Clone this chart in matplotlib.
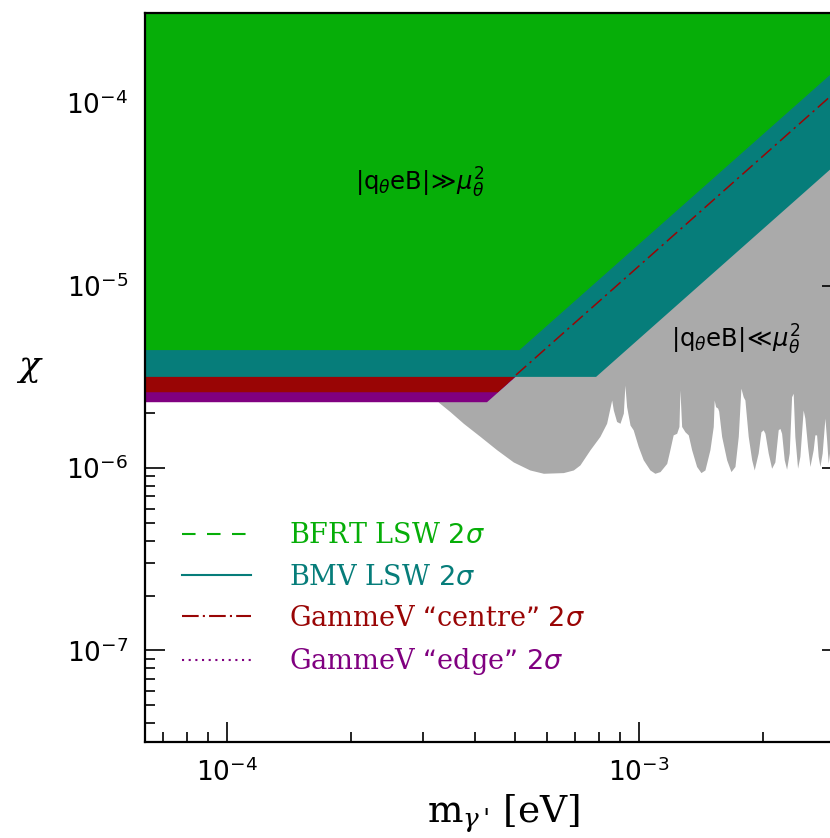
import matplotlib
matplotlib.use("Agg")
import matplotlib.pyplot as plt
from matplotlib.lines import Line2D
from matplotlib.ticker import LogLocator, NullFormatter

# ---------------- data ----------------
# BFRT LSW 2 sigma (green)
bfrt_m = [5.0e-5, 5.12e-4, 3.3e-3]
bfrt_chi = [4.46e-6, 4.46e-6, 1.85e-4]
# BMV LSW 2 sigma (teal)
bmv_m = [5.0e-5, 7.86e-4, 3.3e-3]
bmv_chi = [3.18e-6, 3.18e-6, 5.6e-5]
# GammeV "centre" 2 sigma (red)
gc_m = [5.0e-5, 4.53e-4, 3.3e-3]
gc_chi = [2.62e-6, 2.62e-6, 1.39e-4]
# GammeV "edge" 2 sigma (purple)
ge_m = [5.0e-5, 4.27e-4, 3.3e-3]
ge_chi = [2.31e-6, 2.31e-6, 1.38e-4]

# lower boundary of the grey |q eB| << mu^2 region
grey_m = [3.26e-4, 3.48e-4, 3.75e-4, 4.12e-4, 4.52e-4, 4.96e-4, 5.44e-4, 5.87e-4,
          6.56e-4, 6.94e-4, 7.20e-4, 7.62e-4, 8.05e-4, 8.36e-4, 8.60e-4, 8.68e-4,
          8.84e-4, 9.01e-4, 9.18e-4, 9.26e-4, 9.35e-4, 9.53e-4, 9.70e-4, 9.98e-4,
          1.026e-3, 1.065e-3, 1.095e-3, 1.127e-3, 1.170e-3, 1.191e-3, 1.213e-3,
          1.237e-3, 1.253e-3, 1.260e-3, 1.272e-3, 1.296e-3, 1.320e-3, 1.345e-3,
          1.383e-3, 1.417e-3, 1.449e-3, 1.490e-3, 1.518e-3, 1.526e-3, 1.538e-3,
          1.556e-3, 1.565e-3, 1.591e-3, 1.636e-3, 1.676e-3, 1.714e-3, 1.746e-3,
          1.772e-3, 1.795e-3, 1.812e-3, 1.846e-3, 1.882e-3, 1.909e-3, 1.952e-3,
          1.982e-3, 2.007e-3, 2.027e-3, 2.064e-3, 2.104e-3, 2.143e-3, 2.183e-3,
          2.204e-3, 2.225e-3, 2.258e-3, 2.288e-3, 2.322e-3, 2.353e-3, 2.374e-3,
          2.396e-3, 2.433e-3, 2.465e-3, 2.510e-3, 2.534e-3, 2.573e-3, 2.607e-3,
          2.655e-3, 2.680e-3, 2.706e-3, 2.730e-3, 2.757e-3, 2.792e-3, 2.835e-3,
          2.862e-3, 2.888e-3, 2.915e-3, 3.0e-3, 3.2e-3]
grey_chi = [2.30e-6, 2.04e-6, 1.76e-6, 1.49e-6, 1.26e-6, 1.08e-6, 0.976e-6, 0.936e-6,
            0.944e-6, 0.976e-6, 1.04e-6, 1.26e-6, 1.49e-6, 1.76e-6, 2.36e-6, 2.08e-6,
            1.80e-6, 1.76e-6, 2.00e-6, 2.85e-6, 2.17e-6, 1.72e-6, 1.62e-6, 1.31e-6,
            1.11e-6, 0.976e-6, 0.936e-6, 0.956e-6, 1.06e-6, 1.26e-6, 1.52e-6,
            1.55e-6, 1.69e-6, 2.68e-6, 1.69e-6, 1.58e-6, 1.52e-6, 1.26e-6,
            1.02e-6, 0.944e-6, 0.976e-6, 1.26e-6, 1.69e-6, 2.36e-6, 2.17e-6,
            2.13e-6, 2.05e-6, 1.49e-6, 1.11e-6, 0.956e-6, 1.02e-6, 1.49e-6,
            2.74e-6, 2.46e-6, 2.36e-6, 1.49e-6, 1.11e-6, 0.976e-6, 1.21e-6,
            1.58e-6, 1.62e-6, 1.55e-6, 1.21e-6, 0.997e-6, 1.08e-6, 1.62e-6,
            1.65e-6, 1.55e-6, 1.11e-6, 0.985e-6, 1.21e-6, 2.46e-6, 2.57e-6,
            1.49e-6, 0.997e-6, 1.16e-6, 2.08e-6, 1.88e-6, 1.31e-6, 1.02e-6,
            1.26e-6, 1.52e-6, 1.52e-6, 1.16e-6, 1.02e-6, 1.21e-6, 1.88e-6,
            1.43e-6, 1.06e-6, 1.26e-6, 1.6e-6, 1.2e-6]

labels = ["BFRT LSW $2\\sigma$", "BMV LSW $2\\sigma$",
          "GammeV \u201ccentre\u201d $2\\sigma$", "GammeV \u201cedge\u201d $2\\sigma$"]

# ---------------- style ----------------
c_green = "#06ae08"
c_teal = "#067d7a"
c_red = "#990505"
c_purple = "#800080"
c_grey = "#aaaaaa"
TOP = 1e-2

fig = plt.figure(figsize=(8.30, 8.38), dpi=100)
ax = fig.add_axes([0.1747, 0.1146, 0.8398, 0.8695])
ax.set_xscale("log")
ax.set_yscale("log")
ax.set_xlim(6.32e-5, 3.12e-3)
ax.set_ylim(3.15e-8, 3.11e-4)

ax.fill_between(grey_m, grey_chi, TOP, color=c_grey, lw=0, zorder=1)
ax.fill_between(ge_m, ge_chi, TOP, color=c_purple, lw=0, zorder=2)
ax.fill_between(gc_m, gc_chi, TOP, color=c_red, lw=0, zorder=3)
ax.fill_between(bmv_m, bmv_chi, TOP, color=c_teal, lw=0, zorder=4)
ax.plot(gc_m[1:], gc_chi[1:], color=c_red, lw=1.1, dashes=(9, 3, 1.5, 3), zorder=5)
ax.fill_between(bfrt_m, bfrt_chi, TOP, color=c_green, lw=0, zorder=6)

# annotations
ax.text(2.94e-4, 3.66e-5, r"$|\mathrm{q}_{\theta}\mathrm{eB}|\!\gg\!\mu_{\theta}^{2}$",
        fontsize=17.5, ha="center", va="center", zorder=10)
ax.text(1.72e-3, 5.04e-6, r"$|\mathrm{q}_{\theta}\mathrm{eB}|\!\ll\!\mu_{\theta}^{2}$",
        fontsize=17.5, ha="center", va="center", zorder=10)

# legend
handles = [Line2D([], [], color=c_green, lw=1.5, dashes=(6.5, 5.5)),
           Line2D([], [], color=c_teal, lw=1.5),
           Line2D([], [], color=c_red, lw=1.5, dashes=(8, 2, 1, 2)),
           Line2D([], [], color=c_purple, lw=1.5, dashes=(1, 2.2))]
leg = ax.legend(handles, labels, loc="upper left", bbox_to_anchor=(0.018, 0.335),
                frameon=False, handlelength=2.55, handletextpad=1.4,
                labelspacing=0.53,
                prop={"family": "DejaVu Serif", "size": 19.5})
leg.set_zorder(20)
for t, c in zip(leg.get_texts(), [c_green, c_teal, c_red, c_purple]):
    t.set_color(c)

# ticks / spines
for s in ax.spines.values():
    s.set_linewidth(1.6)
    s.set_zorder(21)
ax.tick_params(which="both", direction="in", top=True, right=True, width=1.2)
ax.tick_params(which="major", length=14.5, labelsize=19, pad=12)
ax.tick_params(which="minor", length=7.2)
ax.xaxis.set_minor_locator(LogLocator(base=10, subs=range(2, 10), numticks=20))
ax.yaxis.set_minor_locator(LogLocator(base=10, subs=range(2, 10), numticks=20))
ax.xaxis.set_minor_formatter(NullFormatter())
ax.yaxis.set_minor_formatter(NullFormatter())
ax.set_yticks([1e-7, 1e-6, 1e-5, 1e-4])
ax.set_xticks([1e-4, 1e-3])

ax.set_xlabel(r"$\mathrm{m}_{\gamma\,\text{'}}$ [eV]", fontsize=27, family="DejaVu Serif",
              math_fontfamily="dejavuserif")
ax.xaxis.set_label_coords(0.515, -0.07)
ax.set_ylabel(r"$\chi$", fontsize=26, rotation=0, math_fontfamily="dejavuserif")
ax.yaxis.set_label_coords(-0.165, 0.49)

fig.savefig("out.png", dpi=100)
